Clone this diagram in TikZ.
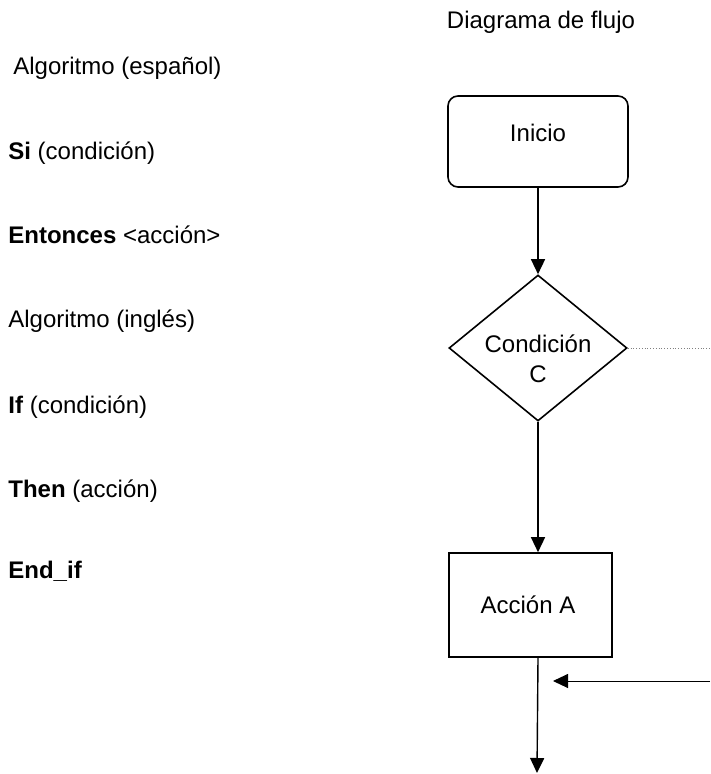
\documentclass[tikz,border=0pt]{standalone}
\usepackage{fontspec}
\setmainfont{Liberation Sans}
\usetikzlibrary{arrows.meta,shapes.geometric}

\begin{document}
\begin{tikzpicture}[x=0.5pt, y=-0.5pt,
    font=\fontsize{12}{14}\selectfont,
    >={Triangle[width=7pt,length=7.5pt]},
    texto/.style={inner sep=0pt, anchor=base west},
    titulo/.style={inner sep=0pt, anchor=base},
    caja/.style={draw, line width=0.8pt, minimum width=#1, inner sep=0pt},
    flecha/.style={->, line width=0.7pt}]
    \useasboundingbox (0,0) rectangle (710,774);

    % Algoritmo
    \node[texto] (alg1) at (13,75) {Algoritmo (español)};
    \node[texto] (si) at (8,160) {\textbf{Si} (condición)};
    \node[texto] (ent) at (8,244) {\textbf{Entonces} <acción>};
    \node[texto] (alg2) at (8,328) {Algoritmo (inglés)};
    \node[texto] (if) at (8,413) {\textbf{If} (condición)};
    \node[texto] (then) at (8,497) {\textbf{Then} (acción)};
    \node[texto] (endif) at (8,578) {\textbf{End\_if}};

    % Diagrama de flujo
    \node[titulo] (diag) at (541,29) {Diagrama de flujo};
    \node[caja=90pt, minimum height=45.5pt, rounded corners=5pt] (inicio) at (538,141.5) {};
    \node[titulo] (inicioT) at (538,142) {Inicio};
    \node[caja=89pt, minimum height=73pt, diamond] (cond) at (538,348) {};
    \node[titulo] (condT) at (538,352) {Condición};
    \node[titulo] (condC) at (538,382) {C};
    \node[caja=81.5pt, minimum height=52pt] (accion) at (530.5,605) {};
    \node[titulo] (accionT) at (528,613) {Acción A};

    % Puntos libres
    \coordinate (sale) at (710,348);
    \coordinate (entra) at (710,681);
    \coordinate (llega) at (537,681);
    \coordinate (fin) at (537,773);

    % Conexiones
    \draw[flecha] (inicio) -- (cond);
    \draw[flecha] (cond.south) -- (cond.south |- accion.north);
    \draw[flecha] (cond.south |- accion.south) -- (fin);
    \draw[->, line width=0.5pt] (entra) -- ([xshift=8pt]llega);
    \draw[densely dotted, gray, line width=0.4pt] (cond.east) -- (sale);
\end{tikzpicture}
\end{document}
